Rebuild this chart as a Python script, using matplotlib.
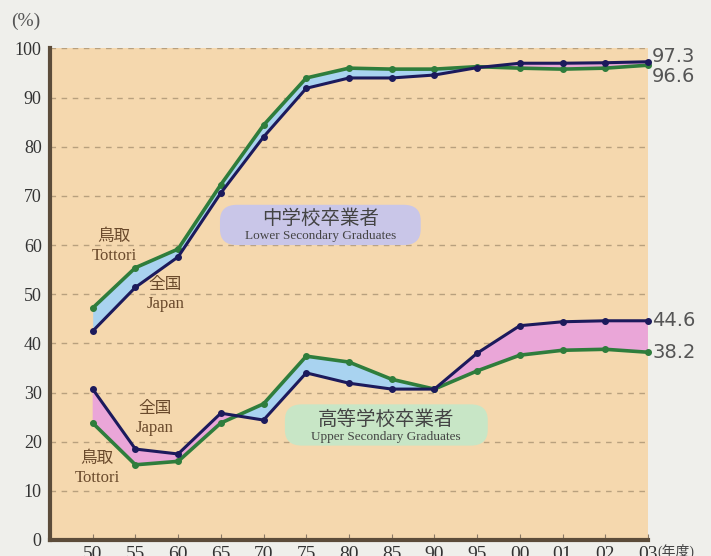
import matplotlib.pyplot as plt
import numpy as np
from matplotlib.patches import FancyBboxPatch

plt.rcParams['font.family'] = ['Liberation Serif', 'Noto Sans CJK JP', 'DejaVu Sans']

years = ['50', '55', '60', '65', '70', '75', '80', '85', '90', '95', '00', '01', '02', '03']

# 中学校卒業者 (高校進学率)
lower_japan = [42.5, 51.4, 57.6, 70.6, 82.0, 91.9, 94.0, 94.0, 94.6, 96.1, 97.0, 97.0, 97.1, 97.3]
lower_tottori = [47.2, 55.4, 59.2, 72.3, 84.4, 94.0, 96.0, 95.8, 95.8, 96.3, 96.0, 95.8, 96.0, 96.6]

# 高等学校卒業者 (大学等進学率)
upper_japan = [30.7, 18.5, 17.5, 25.8, 24.4, 34.0, 31.9, 30.7, 30.7, 38.0, 43.6, 44.4, 44.6, 44.6]
upper_tottori = [23.8, 15.3, 16.0, 23.8, 27.7, 37.4, 36.2, 32.7, 30.7, 34.4, 37.6, 38.6, 38.8, 38.2]

navy = '#1c1a5c'
green = '#2f7d3c'
blue_fill = '#a9d3f0'
pink_fill = '#eaa6d8'
brown = '#6a4a2c'

fig = plt.figure(figsize=(7.11, 5.56), dpi=100)
fig.patch.set_facecolor('#efefeb')
ax = fig.add_axes([0.0703, 0.0288, 0.841, 0.884])
ax.set_facecolor('#f5d8ae')

x = np.arange(len(years))

for jp, tt in [(lower_japan, lower_tottori), (upper_japan, upper_tottori)]:
    jp = np.array(jp)
    tt = np.array(tt)
    ax.fill_between(x, jp, tt, where=tt >= jp, interpolate=True, color=blue_fill, lw=0)
    ax.fill_between(x, jp, tt, where=jp >= tt, interpolate=True, color=pink_fill, lw=0)
    ax.plot(x, tt, color=green, lw=2.6, marker='o', ms=4, clip_on=False, zorder=3)
    ax.plot(x, jp, color=navy, lw=2.2, marker='o', ms=4, clip_on=False, zorder=4)

ax.set_xlim(-1, len(years) - 1)
ax.set_ylim(0, 100)
ax.set_yticks(range(0, 101, 10))
ax.set_xticks(x)
ax.set_xticklabels(years, fontsize=14, color='#333333')
ax.tick_params(axis='y', length=0, labelsize=13, labelcolor='#333333', pad=6)
ax.tick_params(axis='x', direction='in', length=4, color='#8a7a66', pad=4)
ax.yaxis.grid(True, linestyle=(0, (4, 4)), color='#b8a07e', lw=1)
ax.set_axisbelow(True)

for s in ['top', 'right']:
    ax.spines[s].set_visible(False)
for s in ['left', 'bottom']:
    ax.spines[s].set_color('#5c4c3a')
    ax.spines[s].set_linewidth(3)

fig.text(0.016, 0.962, '(%)', fontsize=14, color='#555555', va='center')
ax.text(len(years) - 0.78, -0.008, '(年度)', transform=ax.get_xaxis_transform(),
        fontsize=10, color='#444444', va='top')

# 終端の数値
for val, yoff in [(lower_japan[-1], 1.0), (lower_tottori[-1], -2.2),
                  (upper_japan[-1], 0.0), (upper_tottori[-1], 0.0)]:
    ax.text(len(years) - 0.9, val + yoff, f'{val}', fontsize=14, color='#555555',
            va='center', ha='left', clip_on=False,
            family=['Liberation Sans Narrow', 'DejaVu Sans'])

# 系列ラベル
lab = dict(fontsize=12, color=brown, ha='center', va='center', linespacing=1.25)
ax.text(0.5, 59.7, '鳥取\nTottori', **lab)
ax.text(1.7, 50.0, '全国\nJapan', **lab)
ax.text(1.45, 24.8, '全国\nJapan', **lab)
ax.text(0.1, 14.5, '鳥取\nTottori', **lab)

# 区分ラベル
box_lower = FancyBboxPatch((2.98, 60.0), 4.7, 8.2, boxstyle='round,pad=0,rounding_size=0.4',
                           fc='#c9c6e8', ec='none', zorder=2, mutation_aspect=8)
ax.add_patch(box_lower)
ax.text(5.33, 65.3, '中学校卒業者', fontsize=14, color='#444444', ha='center', va='center', zorder=5)
ax.text(5.33, 61.9, 'Lower Secondary Graduates', fontsize=9.5, color='#444444', ha='center', va='center', zorder=5)

box_upper = FancyBboxPatch((4.5, 19.2), 4.75, 8.4, boxstyle='round,pad=0,rounding_size=0.4',
                           fc='#c8e6c6', ec='none', zorder=2, mutation_aspect=8)
ax.add_patch(box_upper)
ax.text(6.87, 24.6, '高等学校卒業者', fontsize=14, color='#444444', ha='center', va='center', zorder=5)
ax.text(6.87, 21.0, 'Upper Secondary Graduates', fontsize=9.5, color='#444444', ha='center', va='center', zorder=5)

plt.savefig('out.png', dpi=100, facecolor=fig.get_facecolor())
plt.close()
